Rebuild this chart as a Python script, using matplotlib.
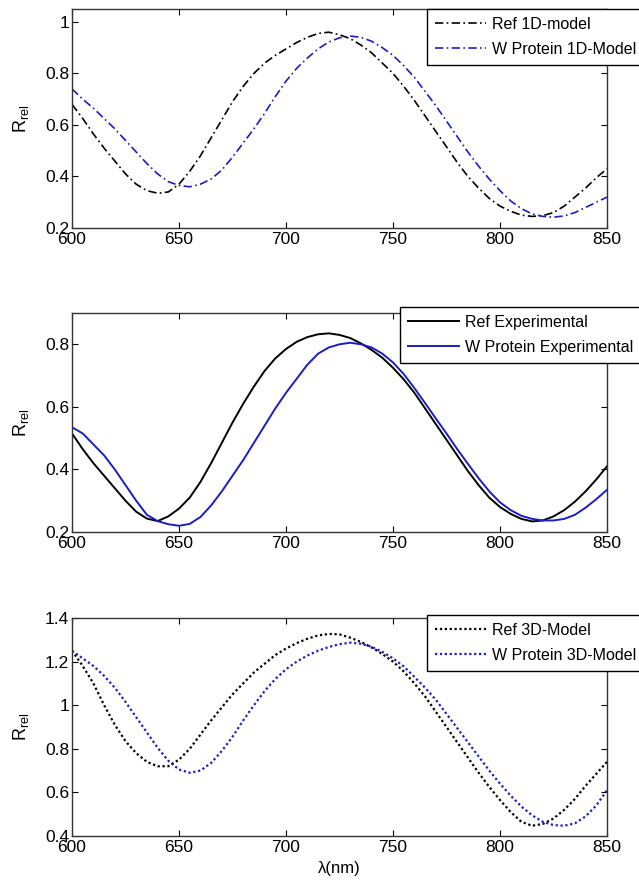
import numpy as np
import matplotlib.pyplot as plt
from matplotlib.ticker import FormatStrFormatter, MultipleLocator

plt.rcParams['font.family'] = ['Liberation Sans', 'DejaVu Sans']
plt.rcParams['mathtext.fontset'] = 'custom'
plt.rcParams['mathtext.rm'] = 'Liberation Sans'

wavelength = np.arange(600, 851, 5)

ref_1d = [0.68, 0.625, 0.565, 0.51, 0.46, 0.41, 0.37, 0.345, 0.335, 0.34,
          0.37, 0.42, 0.48, 0.55, 0.62, 0.69, 0.75, 0.80, 0.84, 0.87,
          0.895, 0.92, 0.94, 0.955, 0.96, 0.95, 0.935, 0.91, 0.88, 0.84,
          0.80, 0.75, 0.695, 0.635, 0.575, 0.515, 0.455, 0.40, 0.355, 0.315,
          0.285, 0.265, 0.25, 0.245, 0.248, 0.26, 0.285, 0.32, 0.355, 0.395,
          0.43]
prot_1d = [0.74, 0.70, 0.665, 0.625, 0.585, 0.54, 0.495, 0.45, 0.41, 0.38,
           0.365, 0.36, 0.37, 0.39, 0.425, 0.475, 0.53, 0.585, 0.645, 0.71,
           0.77, 0.82, 0.86, 0.895, 0.922, 0.938, 0.945, 0.94, 0.925, 0.90,
           0.87, 0.83, 0.785, 0.73, 0.675, 0.615, 0.555, 0.495, 0.44, 0.39,
           0.345, 0.305, 0.275, 0.255, 0.245, 0.242, 0.247, 0.26, 0.28, 0.30,
           0.32]

ref_exp = [0.515, 0.465, 0.42, 0.38, 0.34, 0.30, 0.265, 0.243, 0.235, 0.25,
           0.275, 0.31, 0.36, 0.42, 0.485, 0.55, 0.61, 0.665, 0.715, 0.755,
           0.785, 0.808, 0.823, 0.832, 0.835, 0.83, 0.82, 0.803, 0.782, 0.757,
           0.725, 0.688, 0.645, 0.595, 0.545, 0.495, 0.445, 0.395, 0.35, 0.31,
           0.28, 0.258, 0.242, 0.234, 0.237, 0.25, 0.27, 0.297, 0.33, 0.368,
           0.41]
prot_exp = [0.535, 0.515, 0.48, 0.445, 0.40, 0.35, 0.30, 0.255, 0.235, 0.225,
            0.22, 0.226, 0.248, 0.285, 0.33, 0.38, 0.43, 0.485, 0.54, 0.595,
            0.645, 0.69, 0.735, 0.77, 0.79, 0.80, 0.805, 0.80, 0.79, 0.77,
            0.742, 0.705, 0.66, 0.612, 0.563, 0.515, 0.465, 0.418, 0.372, 0.33,
            0.295, 0.27, 0.252, 0.242, 0.237, 0.237, 0.242, 0.255, 0.278, 0.305,
            0.335]

ref_3d = [1.25, 1.18, 1.10, 1.00, 0.91, 0.835, 0.78, 0.74, 0.72, 0.72,
          0.75, 0.80, 0.865, 0.93, 0.99, 1.05, 1.10, 1.15, 1.19, 1.23,
          1.26, 1.285, 1.305, 1.32, 1.327, 1.325, 1.31, 1.29, 1.265, 1.235,
          1.20, 1.155, 1.10, 1.04, 0.97, 0.90, 0.83, 0.76, 0.69, 0.625,
          0.565, 0.51, 0.465, 0.447, 0.455, 0.48, 0.52, 0.57, 0.63, 0.685,
          0.74]
prot_3d = [1.25, 1.215, 1.18, 1.135, 1.08, 1.015, 0.945, 0.875, 0.805, 0.745,
           0.705, 0.69, 0.70, 0.735, 0.79, 0.855, 0.93, 1.0, 1.065, 1.12,
           1.165, 1.20, 1.228, 1.25, 1.267, 1.28, 1.287, 1.282, 1.268, 1.245,
           1.215, 1.178, 1.13, 1.08, 1.025, 0.96, 0.895, 0.83, 0.765, 0.70,
           0.64, 0.585, 0.535, 0.495, 0.465, 0.45, 0.447, 0.458, 0.49, 0.54,
           0.61]

blue = '#1c1cc8'
dashdot = (0, (5, 2, 1, 2))
dotted = (0, (1, 1.2))

panels = [
    dict(rect=[0.1127, 0.7438, 0.8372, 0.2461], ylim=(0.2, 1.05),
         ref=ref_1d, prot=prot_1d, ls=dashdot, lw=1.2,
         labels=['Ref 1D-model', 'W Protein 1D-Model'], leg=(427, 9)),
    dict(rect=[0.1127, 0.4022, 0.8372, 0.2461], ylim=(0.2, 0.9),
         ref=ref_exp, prot=prot_exp, ls='-', lw=1.4,
         labels=['Ref Experimental', 'W Protein Experimental'], leg=(400, 307)),
    dict(rect=[0.1127, 0.0607, 0.8372, 0.2449], ylim=(0.4, 1.4),
         ref=ref_3d, prot=prot_3d, ls=dotted, lw=1.6,
         labels=['Ref 3D-Model', 'W Protein 3D-Model'], leg=(427, 615)),
]

fig = plt.figure(figsize=(6.39, 8.90), dpi=100)

for p in panels:
    ax = fig.add_axes(p['rect'])
    ax.plot(wavelength, p['ref'], color='black', ls=p['ls'], lw=p['lw'],
            label=p['labels'][0])
    ax.plot(wavelength, p['prot'], color=blue, ls=p['ls'], lw=p['lw'],
            label=p['labels'][1])
    ax.set_xlim(600, 850)
    ax.set_ylim(*p['ylim'])
    ax.xaxis.set_major_locator(MultipleLocator(50))
    ax.yaxis.set_major_locator(MultipleLocator(0.2))
    ax.yaxis.set_major_formatter(FormatStrFormatter('%g'))
    ax.tick_params(direction='in', top=True, right=True, length=4,
                   width=0.8, labelsize=12.5, pad=2)
    ax.tick_params(axis='x', pad=3)
    for s in ax.spines.values():
        s.set_linewidth(1.0)
        s.set_color('#333333')
    ax.set_ylabel(r'$\mathregular{R_{rel}}$', fontsize=13, labelpad=10)
    lx, ly = p['leg']
    leg = ax.legend(loc='upper left', bbox_to_anchor=(lx / 639, 1 - ly / 890),
                    bbox_transform=fig.transFigure, fontsize=11.5,
                    handlelength=3.2, handletextpad=0.4, borderpad=0.5,
                    labelspacing=0.6, fancybox=False, framealpha=1,
                    borderaxespad=0)
    leg.get_frame().set_edgecolor('black')
    leg.get_frame().set_linewidth(1.0)
    if p is panels[-1]:
        ax.set_xlabel('λ(nm)', fontsize=12, labelpad=4)

fig.savefig('out.png', dpi=100)
